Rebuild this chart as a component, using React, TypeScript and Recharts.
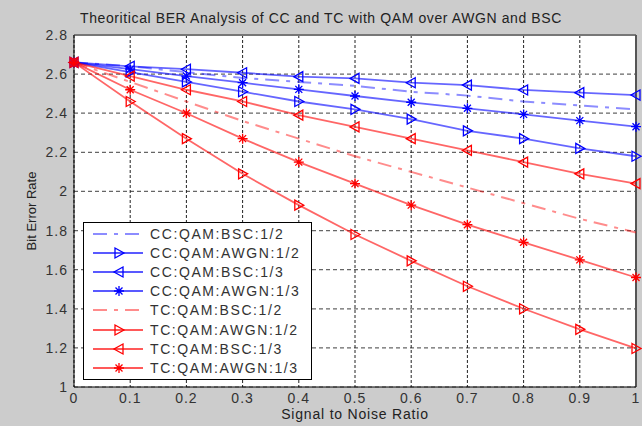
import {
  LineChart,
  Line,
  XAxis,
  YAxis,
  CartesianGrid,
  Legend,
  ReferenceLine,
  Label,
} from "recharts";

const snr = [0, 0.1, 0.2, 0.3, 0.4, 0.5, 0.6, 0.7, 0.8, 0.9, 1];
const ccBsc12 = [2.66, 2.64, 2.61, 2.58, 2.56, 2.54, 2.51, 2.49, 2.46, 2.44, 2.42];
const ccAwgn12 = [2.66, 2.61, 2.56, 2.51, 2.46, 2.42, 2.37, 2.31, 2.27, 2.22, 2.18];
const ccBsc13 = [2.66, 2.64, 2.625, 2.607, 2.587, 2.578, 2.556, 2.544, 2.519, 2.505, 2.493];
const ccAwgn13 = [2.66, 2.625, 2.59, 2.556, 2.522, 2.488, 2.456, 2.425, 2.394, 2.362, 2.331];
const tcBsc12 = [2.66, 2.56, 2.46, 2.36, 2.27, 2.18, 2.1, 2.02, 1.94, 1.86, 1.79];
const tcAwgn12 = [2.66, 2.46, 2.27, 2.09, 1.93, 1.78, 1.645, 1.515, 1.4, 1.295, 1.197];
const tcBsc13 = [2.66, 2.59, 2.52, 2.46, 2.39, 2.33, 2.27, 2.21, 2.15, 2.09, 2.04];
const tcAwgn13 = [2.66, 2.52, 2.4, 2.27, 2.15, 2.04, 1.93, 1.83, 1.74, 1.65, 1.56];

const xTicks = [0, 0.1, 0.2, 0.3, 0.4, 0.5, 0.6, 0.7, 0.8, 0.9, 1];
const yTicks = [1, 1.2, 1.4, 1.6, 1.8, 2, 2.2, 2.4, 2.6, 2.8];

const BLUE = "#0000ff";
const RED = "#ff0000";

type Shape = "none" | "right" | "left" | "star";

const series: { key: string; name: string; color: string; dash?: string; shape: Shape }[] = [
  { key: "ccBsc12", name: "CC:QAM:BSC:1/2", color: BLUE, dash: "14 7 4 7", shape: "none" },
  { key: "ccAwgn12", name: "CC:QAM:AWGN:1/2", color: BLUE, shape: "right" },
  { key: "ccBsc13", name: "CC:QAM:BSC:1/3", color: BLUE, shape: "left" },
  { key: "ccAwgn13", name: "CC:QAM:AWGN:1/3", color: BLUE, shape: "star" },
  { key: "tcBsc12", name: "TC:QAM:BSC:1/2", color: RED, dash: "14 7 4 7", shape: "none" },
  { key: "tcAwgn12", name: "TC:QAM:AWGN:1/2", color: RED, shape: "right" },
  { key: "tcBsc13", name: "TC:QAM:BSC:1/3", color: RED, shape: "left" },
  { key: "tcAwgn13", name: "TC:QAM:AWGN:1/3", color: RED, shape: "star" },
];

const values: Record<string, number[]> = {
  ccBsc12, ccAwgn12, ccBsc13, ccAwgn13, tcBsc12, tcAwgn12, tcBsc13, tcAwgn13,
};

const data = snr.map((x, i) => {
  const row: Record<string, number> = { snr: x };
  series.forEach((s) => (row[s.key] = values[s.key][i]));
  return row;
});

function Marker({ cx, cy, shape, color }: { cx: number; cy: number; shape: Shape; color: string }) {
  if (shape === "right")
    return (
      <path d={`M${cx - 4},${cy - 5}L${cx + 5},${cy}L${cx - 4},${cy + 5}Z`} fill="none" stroke={color} strokeWidth={1.3} />
    );
  if (shape === "left")
    return (
      <path d={`M${cx + 4},${cy - 5}L${cx - 5},${cy}L${cx + 4},${cy + 5}Z`} fill="none" stroke={color} strokeWidth={1.3} />
    );
  if (shape === "star")
    return (
      <path
        d={`M${cx - 5},${cy}H${cx + 5}M${cx},${cy - 5}V${cy + 5}M${cx - 3.5},${cy - 3.5}L${cx + 3.5},${cy + 3.5}M${cx - 3.5},${cy + 3.5}L${cx + 3.5},${cy - 3.5}`}
        stroke={color}
        strokeWidth={1.3}
      />
    );
  return null;
}

const font = "Arial, 'Liberation Sans', sans-serif";

function LegendBox() {
  return (
    <div
      style={{
        position: "relative",
        width: 229,
        height: 158,
        border: "1px solid #000",
        background: "#fff",
        boxSizing: "border-box",
      }}
    >
      {series.map((s, i) => {
        const cy = 11 + i * 19.1;
        return (
          <div key={s.key} style={{ position: "absolute", left: 0, top: cy - 10, height: 20, width: 229 }}>
            <svg width={66} height={20} style={{ position: "absolute", left: 0, top: 0 }}>
              <line
                x1={9}
                x2={59}
                y1={10}
                y2={10}
                stroke={s.color}
                strokeOpacity={s.dash ? 0.45 : 0.65}
                strokeWidth={s.dash ? 2 : 2}
                strokeDasharray={s.dash ? "14 7 4 7" : undefined}
              />
              <Marker cx={35} cy={10} shape={s.shape} color={s.color} />
            </svg>
            <span
              style={{
                position: "absolute",
                left: 66,
                top: 2,
                fontFamily: font,
                fontSize: 14,
                letterSpacing: 1.6,
                color: "#333",
                whiteSpace: "nowrap",
                lineHeight: "16px",
              }}
            >
              {s.name}
            </span>
          </div>
        );
      })}
    </div>
  );
}

export default function App() {
  return (
    <div style={{ position: "fixed", left: 0, top: 0, width: 642, height: 426, background: "#cccccc" }}>
      <div
        style={{
          position: "absolute",
          left: 0,
          top: 9,
          width: 642,
          textAlign: "center",
          fontFamily: font,
          fontSize: 14,
          letterSpacing: 0.6,
          color: "#222",
          lineHeight: "18px",
        }}
      >
        Theoritical BER Analysis of CC and TC with QAM over AWGN and BSC
      </div>
      <LineChart width={642} height={426} data={data} margin={{ top: 35, right: 6, left: 14, bottom: 0 }}>
        <CartesianGrid fill="#ffffff" vertical={false} stroke="#666" strokeDasharray="4 3" strokeWidth={1.2} />
        <CartesianGrid horizontal={false} stroke="#222" strokeDasharray="3 2" />
        <XAxis
          type="number"
          dataKey="snr"
          domain={[0, 1]}
          ticks={xTicks}
          height={39}
          tickSize={0}
          tickMargin={6}
          stroke="#000"
          tick={{ fill: "#333", fontSize: 14, fontFamily: font, letterSpacing: 1 }}
        >
          <Label
            content={({ viewBox }: any) => (
              <text
                x={viewBox.x + viewBox.width / 2}
                y={viewBox.y + 32}
                textAnchor="middle"
                fontFamily={font}
                fontSize={14}
                letterSpacing={0.8}
                fill="#222"
              >
                Signal to Noise Ratio
              </text>
            )}
          />
        </XAxis>
        <YAxis
          type="number"
          domain={[1, 2.8]}
          ticks={yTicks}
          width={60}
          tickSize={0}
          tickMargin={6}
          stroke="#000"
          tick={{ fill: "#333", fontSize: 14, fontFamily: font, letterSpacing: 1 }}
        >
          <Label
            content={({ viewBox }: any) => (
              <text
                x={33}
                y={viewBox.y + viewBox.height / 2}
                textAnchor="middle"
                dominantBaseline="middle"
                transform={`rotate(-90 33 ${viewBox.y + viewBox.height / 2})`}
                fontFamily={font}
                fontSize={13}
                fill="#222"
              >
                Bit Error Rate
              </text>
            )}
          />
        </YAxis>
        <ReferenceLine y={2.8} stroke="#777" strokeWidth={2} />
        <ReferenceLine x={1} stroke="#555" strokeWidth={2} />
        {series.map((s) => (
          <Line
            key={s.key}
            dataKey={s.key}
            name={s.name}
            type="linear"
            stroke={s.color}
            strokeOpacity={s.dash ? 0.45 : 0.6}
            strokeWidth={s.dash ? 2 : 1.8}
            strokeDasharray={s.dash}
            isAnimationActive={false}
            dot={(p: any) => <Marker key={`${s.key}-${p.index}`} cx={p.cx} cy={p.cy} shape={s.shape} color={s.color} />}
            activeDot={false}
          />
        ))}
        <Legend
          layout="horizontal"
          align="center"
          verticalAlign="middle"
          wrapperStyle={{ left: 83, top: 222, width: 229, height: 158 }}
          content={() => <LegendBox />}
        />
      </LineChart>
    </div>
  );
}
